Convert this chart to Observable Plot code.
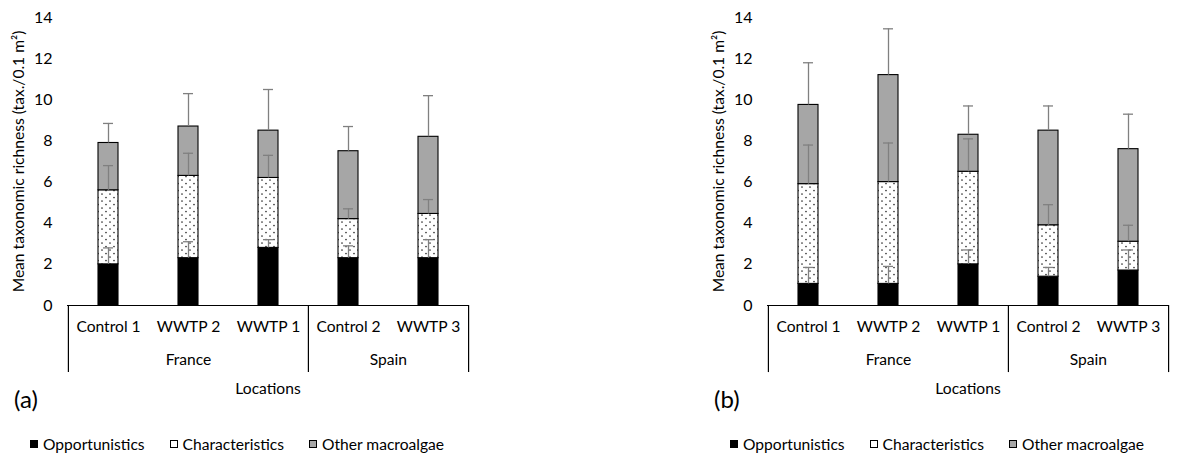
<!DOCTYPE html>
<html><head><meta charset="utf-8">
<script src="https://cdn.jsdelivr.net/npm/d3@7"></script>
<script src="https://cdn.jsdelivr.net/npm/@observablehq/plot@0.6"></script>
<style>
body{margin:0;background:#fff;font-family:Lato,"Noto Sans",sans-serif;color:#000;}
#wrap{position:relative;width:1180px;height:455px;overflow:hidden;background:#fff;}
.panel{position:absolute;top:0;width:480px;height:455px;}
.tag{position:absolute;left:14px;top:386px;font-size:24px;line-height:26px;}
.legend{position:absolute;left:30px;top:435px;display:flex;align-items:center;font-size:15.6px;line-height:18px;white-space:nowrap;}
.item{display:flex;align-items:center;margin-right:25px;}
.sw{display:inline-block;width:8px;height:8px;border:1px solid #000;margin-right:5px;box-sizing:border-box;}
</style></head>
<body>
<svg width="0" height="0" style="position:absolute">
  <defs>
    <pattern id="dots" width="8" height="7" patternUnits="userSpaceOnUse">
      <rect width="8" height="7" fill="#fff"/>
      <circle cx="2" cy="1.5" r="0.85" fill="#333"/>
      <circle cx="6" cy="5" r="0.85" fill="#333"/>
    </pattern>
  </defs>
</svg>
<div id="wrap"></div>
<script>
const sites = ["Control 1", "WWTP 2", "WWTP 1", "Control 2", "WWTP 3"];
const countries = ["France", "Spain"];
const seriesNames = ["Opportunistics", "Characteristics", "Other macroalgae"];
const yTicks = [0, 2, 4, 6, 8, 10, 12, 14];
const yTitle = "Mean taxonomic richness (tax./0.1 m²)";
const xTitle = "Locations";

// Panel (a)
const aOpp = [2.0, 2.3, 2.8, 2.3, 2.3];
const aOppErr = [0.8, 0.8, 0.4, 0.6, 0.9];
const aChar = [3.6, 4.0, 3.4, 1.9, 2.15];
const aCharErr = [1.2, 1.1, 1.1, 0.5, 0.7];
const aOther = [2.3, 2.4, 2.3, 3.3, 3.75];
const aOtherErr = [0.95, 1.6, 2.0, 1.2, 2.0];

// Panel (b)
const bOpp = [1.05, 1.05, 2.0, 1.4, 1.7];
const bOppErr = [0.8, 0.85, 0.7, 0.45, 1.0];
const bChar = [4.85, 4.95, 4.5, 2.5, 1.4];
const bCharErr = [1.9, 1.9, 1.6, 1.0, 0.8];
const bOther = [3.85, 5.2, 1.8, 4.6, 4.5];
const bOtherErr = [2.05, 2.25, 1.4, 1.2, 1.7];

function buildRows(vals, errs) {
  const rows = [];
  sites.forEach((s, i) => {
    let base = 0;
    seriesNames.forEach((name, k) => {
      const v = vals[k][i];
      rows.push({site: s, series: name, base, top: base + v, err: errs[k][i]});
      base += v;
    });
  });
  return rows;
}

function makePanel(rows) {
  const half = 401 / sites.length / 2;
  return Plot.plot({
    width: 480, height: 400,
    marginLeft: 67, marginRight: 12, marginTop: 17, marginBottom: 95,
    style: {fontFamily: "Lato, 'Noto Sans', sans-serif", fontSize: "15.6px", color: "#000", background: "transparent", overflow: "visible"},
    x: {domain: sites, padding: 0, axis: null},
    y: {domain: [0, 14], axis: null},
    color: {domain: seriesNames, range: ["#000", "url(#dots)", "#a6a6a6"]},
    marks: [
      Plot.axisY({ticks: yTicks, tickSize: 0, tickPadding: 15, fontSize: 16, label: null}),
      Plot.barY(rows, {x: "site", y1: "base", y2: "top", fill: "series", stroke: "#000", strokeWidth: 1.1, insetLeft: 30, insetRight: 30}),
      Plot.ruleX(rows, {x: "site", y1: "top", y2: d => d.top + d.err, stroke: "#808080", strokeWidth: 1.3}),
      Plot.tickY(rows, {x: "site", y: d => d.top + d.err, stroke: "#808080", strokeWidth: 1.3, insetLeft: 35, insetRight: 35}),
      Plot.ruleY([0], {stroke: "#000", strokeWidth: 1.2}),
      Plot.ruleX([sites[0], sites[3]], {x: d => d, y1: 0, y2: -3.26, dx: -half, stroke: "#000", strokeWidth: 1.2}),
      Plot.ruleX([sites[4]], {x: d => d, y1: 0, y2: -3.26, dx: half, stroke: "#000", strokeWidth: 1.2}),
      Plot.text(sites, {x: d => d, frameAnchor: "bottom", dy: 26, fill: "#000"}),
      Plot.text([countries[0]], {x: () => sites[1], frameAnchor: "bottom", dy: 59, fill: "#000"}),
      Plot.text([countries[1]], {x: () => sites[4], frameAnchor: "bottom", dy: 59, dx: -half, fill: "#000"}),
      Plot.text([xTitle], {frameAnchor: "bottom", dy: 88, fill: "#000"}),
      Plot.text([yTitle], {frameAnchor: "left", textAnchor: "middle", rotate: -90, dx: -49, fill: "#000"})
    ]
  });
}

function legendHTML() {
  const leg = document.createElement("div");
  leg.className = "legend";
  const styles = [
    "background:#000",
    "background:#fff url(\"data:image/svg+xml,%3Csvg xmlns='http://www.w3.org/2000/svg' width='8' height='8'%3E%3Ccircle cx='3' cy='3' r='0.9' fill='%23000'/%3E%3C/svg%3E\") no-repeat",
    "background:#a6a6a6"
  ];
  seriesNames.forEach((n, i) => {
    const it = document.createElement("span");
    it.className = "item";
    it.innerHTML = `<span class="sw" style="${styles[i]}"></span>${n}`;
    leg.appendChild(it);
  });
  return leg;
}

const wrap = document.getElementById("wrap");
[
  {left: 0, tag: "(a)", rows: buildRows([aOpp, aChar, aOther], [aOppErr, aCharErr, aOtherErr])},
  {left: 700, tag: "(b)", rows: buildRows([bOpp, bChar, bOther], [bOppErr, bCharErr, bOtherErr])}
].forEach(p => {
  const div = document.createElement("div");
  div.className = "panel";
  div.style.left = p.left + "px";
  div.appendChild(makePanel(p.rows));
  const tag = document.createElement("div");
  tag.className = "tag";
  tag.textContent = p.tag;
  div.appendChild(tag);
  div.appendChild(legendHTML());
  wrap.appendChild(div);
});
</script>
</body></html>
